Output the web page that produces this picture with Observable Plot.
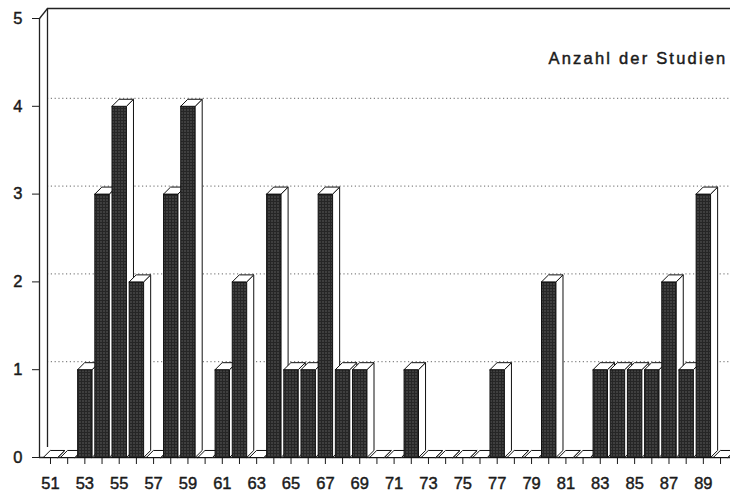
<!DOCTYPE html>
<html><head><meta charset="utf-8">
<script src="https://cdn.jsdelivr.net/npm/d3@7"></script>
<script src="https://cdn.jsdelivr.net/npm/@observablehq/plot@0.6"></script>
<style>body{margin:0;background:#fff}</style>
</head><body><div id="chart"></div>
<script>
// Data (Jahrgang 19xx -> Anzahl der Studien)
const years = [51,52,53,54,55,56,57,58,59,60,61,62,63,64,65,66,67,68,69,70,71,72,73,74,75,76,77,78,79,80,81,82,83,84,85,86,87,88,89,90];
const counts = [0,0,1,3,4,2,0,3,4,0,1,2,0,3,1,1,3,1,1,0,0,1,0,0,0,0,1,0,0,2,0,0,1,1,1,1,2,1,3,0];
const yTicks = [0,1,2,3,4,5];
const gridValues = [1,2,3,4];
const title = "Anzahl der Studien";

// 3-D bar geometry (style constants, in data units)
const halfW = 0.42, depthX = 0.41, depthY = 0.08;
const xLo = 50.36, xHi = 90.58;

const faces = [];
years.forEach((yr, i) => {
  const v = counts[i], x1 = yr - halfW, x2 = yr + halfW;
  const polys = {
    front: [[x1,0],[x2,0],[x2,v],[x1,v],[x1,0]],
    side: [[x2,0],[x2+depthX,depthY],[x2+depthX,v+depthY],[x2,v],[x2,0]],
    top: [[x1,v],[x2,v],[x2+depthX,v+depthY],[x1+depthX,v+depthY],[x1,v]]
  };
  for (const [face, pts] of Object.entries(polys))
    for (const [x, y] of pts) faces.push({id: yr + "-" + face, face, x, y});
});

const svg = Plot.plot({
  width: 730, height: 495,
  marginLeft: 39, marginRight: 0, marginTop: 18, marginBottom: 38,
  style: {fontFamily: "'Liberation Sans', Arial, sans-serif", fontSize: "16.5px", color: "#1a1a1a", background: "white"},
  x: {domain: [xLo, xHi], ticks: years, tickFormat: d => d % 2 === 1 ? String(d) : "", tickSize: 7, tickPadding: 13, label: null},
  y: {domain: [0, 5], ticks: yTicks, tickFormat: d => String(d), tickSize: 7, tickPadding: 10, label: null},
  color: {domain: ["front", "side", "top"], range: ["url(#stipple)", "white", "white"]},
  marks: [
    Plot.ruleY(gridValues, {dx: 8, dy: -8, stroke: "#666", strokeDasharray: "1.2,2.6", strokeWidth: 1}),
    Plot.ruleY([5], {dx: 8, dy: -10, stroke: "#222", strokeWidth: 1.3}),
    Plot.ruleX([xLo], {dx: 8, dy: -10, stroke: "#222", strokeWidth: 1.3}),
    Plot.link([5], {x1: () => xLo, y1: d => d, x2: () => xLo + 8 / 17.18, y2: d => d + 10 / 87.8, stroke: "#222", strokeWidth: 1.3}),
    Plot.ruleX([xLo], {stroke: "#222", strokeWidth: 1.3}),
    Plot.ruleY([0], {stroke: "#222", strokeWidth: 1.3}),
    Plot.line(faces, {x: "x", y: "y", z: "id", fill: "face", stroke: "#111", strokeWidth: 1, strokeLinejoin: "round", curve: "linear"}),
    Plot.text([title], {frameAnchor: "top-right", lineAnchor: "top", textAnchor: "end", dx: -3, dy: 34, fontSize: 16.5, fill: "#1a1a1a"})
  ]
});

const s = d3.select(svg);
const pat = s.insert("defs", ":first-child").append("pattern")
  .attr("id", "stipple").attr("width", 3).attr("height", 3).attr("patternUnits", "userSpaceOnUse");
pat.append("rect").attr("width", 3).attr("height", 3).attr("fill", "#262626");
pat.append("rect").attr("x", 1).attr("y", 1).attr("width", 1).attr("height", 1).attr("fill", "#8a8a8a");
s.selectAll("text").style("stroke", "currentColor").style("stroke-width", "0.45px");
s.selectAll("text").filter(function () { return this.textContent === title; })
  .attr("letter-spacing", "2.2px").style("stroke", "#1a1a1a");

document.getElementById("chart").appendChild(svg);
</script>
</body></html>
